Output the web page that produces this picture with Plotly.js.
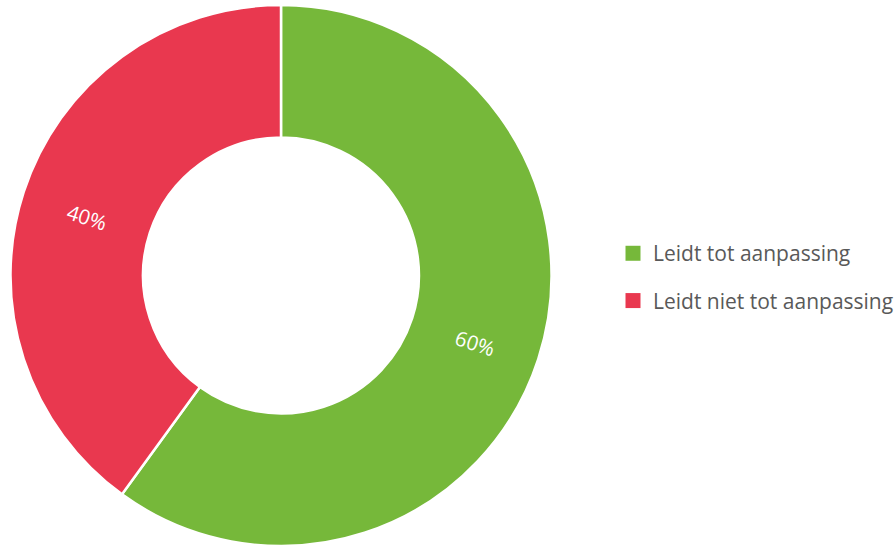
<!DOCTYPE html>
<html>
<head>
<meta charset="utf-8">
<script src="https://cdn.plot.ly/plotly-3.0.1.min.js"></script>
<style>html,body{margin:0;padding:0;background:#fff;}#chart{width:894px;height:546px;}</style>
</head>
<body>
<div id="chart"></div>
<script>
const categories = ["Leidt tot aanpassing", "Leidt niet tot aanpassing"];
const values = [60, 40];
const colors = ["#76B83A", "#E9384F"];

const FONT = "'Open Sans', Lato, sans-serif";
const W = 894, H = 546;
const TOP = 5;
const domX = [10 / W, 552 / W];
const HOLE = 0.51;

const pie = {
  type: "pie",
  labels: categories,
  values: values,
  sort: false,
  direction: "clockwise",
  rotation: 0,
  hole: HOLE,
  marker: {colors: colors, line: {color: "#ffffff", width: 2.5}},
  textinfo: "none",
  showlegend: false,
  domain: {x: domX, y: [0, 1]},
  hoverinfo: "label+percent"
};

// percent labels, placed at the middle of each ring segment, oriented radially
const total = values.reduce((a, b) => a + b, 0);
const plotH = H - TOP;
const R = Math.min((domX[1] - domX[0]) * W, plotH) / 2;
const cx = (domX[0] + domX[1]) / 2 * W;
const cy = TOP + plotH / 2;
const rMid = R * (1 + HOLE) / 2;
let cum = 0;
const annotations = values.map((v, i) => {
  const mid = (cum + v / 2) / total;
  cum += v;
  const th = 2 * Math.PI * mid;
  const px = cx + rMid * Math.sin(th);
  const py = cy - rMid * Math.cos(th);
  let ang = th * 180 / Math.PI - 90;
  while (ang > 90) ang -= 180;
  while (ang < -90) ang += 180;
  return {
    xref: "paper", yref: "paper",
    x: px / W, y: 1 - (py + 4.5 - TOP) / plotH,
    xanchor: "center", yanchor: "middle",
    text: Math.round(v / total * 100) + "%",
    showarrow: false,
    textangle: ang,
    font: {color: "#ffffff", size: 20.5, family: FONT}
  };
});

const legendTraces = categories.map((c, i) => ({
  type: "scatter",
  mode: "markers",
  x: [null], y: [null],
  name: c,
  legendgroup: "g" + i,
  marker: {symbol: "square", size: 15, color: colors[i]},
  showlegend: true,
  hoverinfo: "skip"
}));

const layout = {
  width: W, height: H,
  margin: {l: 0, r: 0, t: TOP, b: 0, pad: 0, autoexpand: false},
  paper_bgcolor: "#ffffff",
  plot_bgcolor: "#ffffff",
  xaxis: {visible: false},
  yaxis: {visible: false},
  showlegend: true,
  annotations: annotations,
  legend: {
    x: 613 / W, y: 0.497, xanchor: "left", yanchor: "middle",
    font: {size: 21, color: "#595959", family: FONT},
    tracegroupgap: 17,
    bgcolor: "rgba(0,0,0,0)"
  }
};

Plotly.newPlot("chart", [pie, ...legendTraces], layout, {displayModeBar: false});
</script>
</body>
</html>
